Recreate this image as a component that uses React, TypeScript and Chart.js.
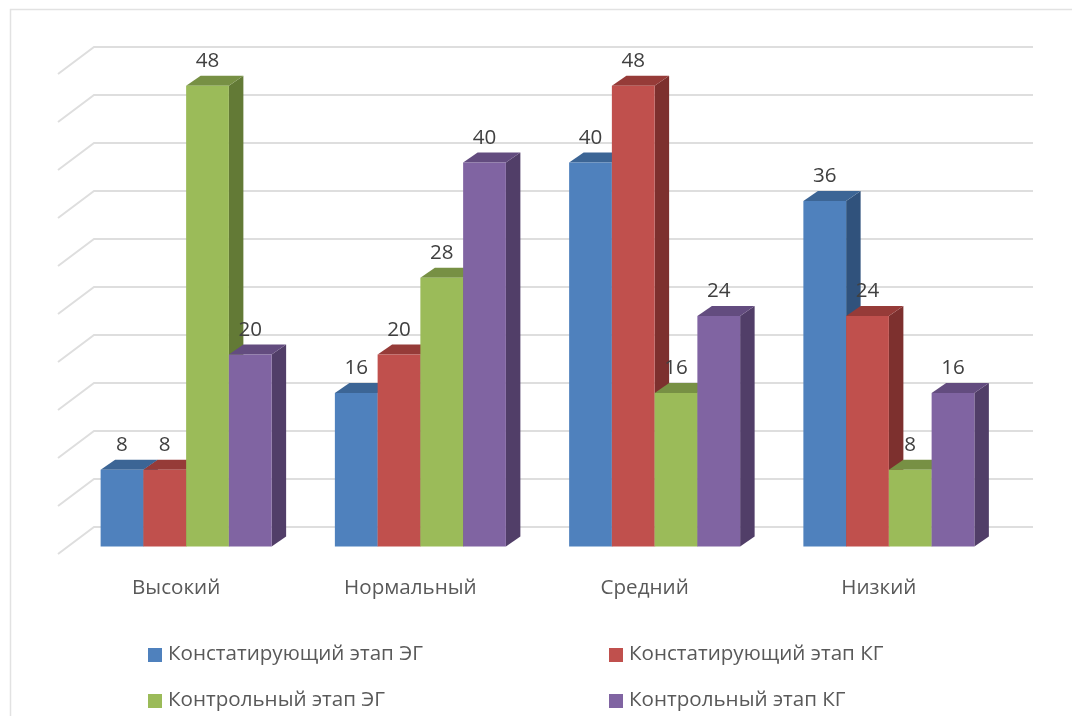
import { useEffect, useRef } from "react";
import { Chart, registerables } from "chart.js";

Chart.register(...registerables);

const categories = ["Высокий", "Нормальный", "Средний", "Низкий"];
const seriesNames = [
  "Констатирующий этап ЭГ",
  "Констатирующий этап КГ",
  "Контрольный этап ЭГ",
  "Контрольный этап КГ",
];
const stageOneEg = [8, 16, 40, 36];
const stageOneKg = [8, 20, 48, 24];
const stageTwoEg = [48, 28, 16, 8];
const stageTwoKg = [20, 40, 24, 16];

const frontColors = ["#4F81BD", "#C0504D", "#9BBB59", "#8064A2"];
const topColors = ["#3C6595", "#963B38", "#779044", "#634C7F"];
const sideColors = ["#30527C", "#7D302E", "#637A36", "#513E68"];

const FONT = '"Open Sans", sans-serif';
const TEXT = "#404040";
const GRID = "#DEDEDE";
const TEXT_SIZE = 20.6;

// Extrusion of a bar and of the chart's back wall, in pixels.
const BAR_DX = 14.5;
const BAR_DY = -10;
const WALL_DY = -19.5;
const STUB_DX = 36;
const STUB_DY = -27;

function poly(ctx: CanvasRenderingContext2D, pts: number[][], fill: string) {
  ctx.beginPath();
  pts.forEach(([x, y], i) => (i ? ctx.lineTo(x, y) : ctx.moveTo(x, y)));
  ctx.closePath();
  ctx.fillStyle = fill;
  ctx.fill();
}

// Outer frame, back-wall gridlines and the slanted side-wall stubs.
function drawWall(chart: any) {
  const { ctx, scales, width, height } = chart;
  ctx.save();
  ctx.strokeStyle = "#E2E2E2";
  ctx.lineWidth = 1.5;
  ctx.beginPath();
  ctx.moveTo(10.5, height);
  ctx.lineTo(10.5, 9.5);
  ctx.lineTo(width, 9.5);
  ctx.stroke();

  ctx.strokeStyle = GRID;
  ctx.lineWidth = 2;
  const backLeft = 94;
  const backRight = 1033;
  scales.y.ticks.forEach((t: any) => {
    const y = scales.y.getPixelForValue(t.value) + WALL_DY;
    ctx.beginPath();
    ctx.moveTo(backLeft - STUB_DX, y - STUB_DY);
    ctx.lineTo(backLeft, y);
    ctx.lineTo(backRight, y);
    ctx.stroke();
  });
  ctx.restore();
}

// Side and top faces of one dataset's columns.
function drawExtrusion(chart: any, index: number) {
  const { ctx } = chart;
  const meta = chart.getDatasetMeta(index);
  ctx.save();
  meta.data.forEach((bar: any) => {
    const { x, y, base, width } = bar.getProps(["x", "y", "base", "width"], true);
    const l = x - width / 2;
    const r = x + width / 2;
    poly(
      ctx,
      [[r, y], [r + BAR_DX, y + BAR_DY], [r + BAR_DX, base + BAR_DY], [r, base]],
      sideColors[index]
    );
    poly(
      ctx,
      [[l, y], [l + BAR_DX, y + BAR_DY], [r + BAR_DX, y + BAR_DY], [r, y]],
      topColors[index]
    );
  });
  ctx.restore();
}

// Paints the series first to last so each one covers the side faces of the previous.
const columnsPlugin = {
  id: "columns",
  beforeDatasetsDraw(chart: any) {
    drawWall(chart);
    chart.data.datasets.forEach((_: any, i: number) => {
      drawExtrusion(chart, i);
      chart.getDatasetMeta(i).controller.draw();
    });
    return false;
  },
};

// Value labels above each column, and the two-column legend under the chart.
const annotationPlugin = {
  id: "annotation",
  afterDraw(chart: any) {
    const { ctx } = chart;
    ctx.save();
    ctx.fillStyle = TEXT;
    ctx.font = `${TEXT_SIZE}px ${FONT}`;
    ctx.textAlign = "center";
    ctx.textBaseline = "middle";
    chart.data.datasets.forEach((ds: any, i: number) => {
      chart.getDatasetMeta(i).data.forEach((bar: any, j: number) => {
        ctx.fillText(String(ds.data[j]), bar.x, bar.y - 24.5);
      });
    });

    const columns = [148, 609];
    const rows = [655, 701];
    ctx.textAlign = "left";
    seriesNames.forEach((name, i) => {
      const x = columns[i % 2];
      const y = rows[Math.floor(i / 2)];
      ctx.fillStyle = frontColors[i];
      ctx.fillRect(x, y - 7, 14, 14);
      ctx.fillStyle = "#595959";
      ctx.fillText(name, x + 20, y - 1);
    });
    ctx.restore();
  },
};

export default function App() {
  const ref = useRef<HTMLCanvasElement | null>(null);

  useEffect(() => {
    if (!ref.current) return;
    const series = [stageOneEg, stageOneKg, stageTwoEg, stageTwoKg];
    const chart = new Chart(ref.current, {
      type: "bar",
      data: {
        labels: categories,
        datasets: series.map((data, i) => ({
          label: seriesNames[i],
          data,
          backgroundColor: frontColors[i],
          categoryPercentage: 0.73,
          barPercentage: 1,
        })),
      },
      options: {
        responsive: false,
        animation: false,
        layout: { padding: { left: 69, right: 66, top: 66.5, bottom: 0 } },
        plugins: { legend: { display: false }, tooltip: { enabled: false } },
        scales: {
          x: {
            grid: { display: false },
            border: { display: false },
            ticks: {
              color: "#595959",
              font: { family: FONT, size: TEXT_SIZE },
              labelOffset: -10,
              padding: 21.5,
              maxRotation: 0,
            },
            afterFit(scale: any) {
              scale.height = 169.5;
            },
          },
          y: {
            display: false,
            min: 0,
            max: 50,
            ticks: { stepSize: 5 },
          },
        },
      },
      plugins: [columnsPlugin, annotationPlugin],
    } as any);
    return () => chart.destroy();
  }, []);

  return (
    <canvas
      ref={ref}
      width={1072}
      height={716}
      style={{ position: "absolute", left: 0, top: 0, display: "block" }}
    />
  );
}
